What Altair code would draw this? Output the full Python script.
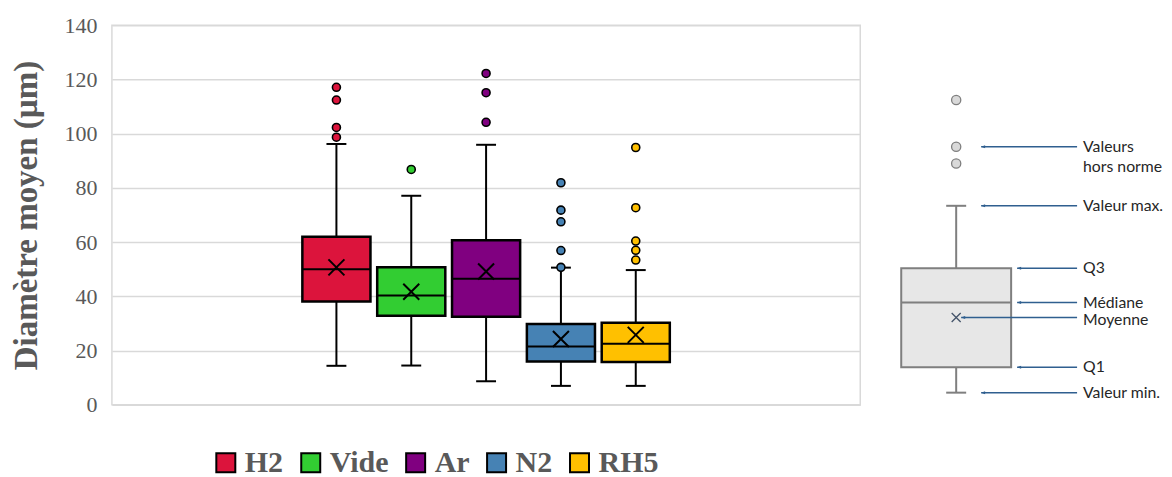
import altair as alt
import pandas as pd

# ---------------- data ----------------
groups = ["H2", "Vide", "Ar", "N2", "RH5"]
colors = ["#DC143C", "#32CD32", "#800080", "#4682B4", "#FFC000"]
q1 = [38.1, 32.9, 32.5, 16.0, 15.8]
median = [50.0, 40.3, 46.5, 21.5, 22.5]
q3 = [62.0, 50.7, 60.7, 29.8, 30.3]
mean = [50.7, 41.7, 49.2, 24.3, 25.8]
whisker_min = [14.4, 14.5, 8.7, 7.0, 7.0]
whisker_max = [96.2, 77.1, 95.9, 50.6, 49.7]
outliers_h2 = [117.1, 112.4, 102.3, 98.7]
outliers_vide = [86.8]
outliers_ar = [122.2, 115.1, 104.2]
outliers_n2 = [81.9, 71.8, 67.5, 56.9, 50.7]
outliers_rh5 = [94.9, 72.7, 60.4, 57.0, 53.4]
y_ticks = [0, 20, 40, 60, 80, 100, 120, 140]

# explanatory diagram (same y scale)
diag_outliers = [112.4, 95.2, 89.0]
diag_q1, diag_median, diag_q3, diag_mean = 13.9, 37.7, 50.4, 32.2
diag_min, diag_max = 4.5, 73.4
diag_labels = ["Valeurs", "hors norme", "Valeur max.", "Q3", "Médiane", "Moyenne", "Q1", "Valeur min."]
diag_label_y = [95.2, 87.6, 73.4, 50.4, 37.7, 31.2, 13.9, 4.5]
arrow_y = [95.2, 73.4, 50.4, 37.7, 32.2, 13.9, 4.5]

# ---------------- tables ----------------
stats = pd.DataFrame({
    "group": groups, "slot": list(range(len(groups))),
    "q1": q1, "median": median, "q3": q3, "mean": mean,
    "wmin": whisker_min, "wmax": whisker_max,
})
out_lists = [outliers_h2, outliers_vide, outliers_ar, outliers_n2, outliers_rh5]
outl = pd.DataFrame([
    {"group": g, "slot": i, "value": v}
    for i, (g, vals) in enumerate(zip(groups, out_lists)) for v in vals
])

SERIF = "Liberation Serif"
GREY_TXT = "#595959"

xscale = alt.Scale(domain=[0, 10])
yscale = alt.Scale(domain=[0, 140])
yaxis = alt.Axis(values=y_ticks, title="Diamètre moyen (µm)", grid=True,
                 gridColor="#d9d9d9", gridWidth=1.5, ticks=False, domain=False,
                 labelFont=SERIF, labelFontSize=22, labelColor=GREY_TXT,
                 labelPadding=15, titleFont=SERIF, titleFontSize=33,
                 titleFontWeight="bold", titleColor=GREY_TXT, titlePadding=20)
fill_scale = alt.Scale(domain=groups, range=colors)
legend = alt.Legend(orient="none", legendX=99, legendY=423, direction="horizontal",
                    title=None, symbolType="square", symbolSize=361,
                    symbolStrokeColor="black", symbolStrokeWidth=2,
                    symbolOpacity=1, labelFont=SERIF, labelFontSize=30,
                    labelFontWeight="bold", labelColor=GREY_TXT, labelOffset=4,
                    columnPadding=12, labelLimit=200)

base = alt.Chart(stats).transform_calculate(
    xc="datum.slot + 3",
    xl="datum.slot + 3 - 0.455", xr="datum.slot + 3 + 0.455",
    cl="datum.slot + 3 - 0.133", cr="datum.slot + 3 + 0.133",
)
X = lambda f: alt.X(f"{f}:Q", scale=xscale, axis=None)
Y = lambda f: alt.Y(f"{f}:Q", scale=yscale, axis=yaxis)

whisk = base.mark_rule(color="black", strokeWidth=2).encode(
    x=X("xc"), y=Y("wmin"), y2="wmax:Q")
cap_lo = base.mark_rule(color="black", strokeWidth=2).encode(
    x=X("cl"), x2="cr:Q", y=Y("wmin"))
cap_hi = base.mark_rule(color="black", strokeWidth=2).encode(
    x=X("cl"), x2="cr:Q", y=Y("wmax"))
box = base.mark_rect(stroke="black", strokeWidth=2.5, opacity=1).encode(
    x=X("xl"), x2="xr:Q", y=Y("q1"), y2="q3:Q",
    fill=alt.Fill("group:N", scale=fill_scale, legend=legend))
med = base.mark_rule(color="black", strokeWidth=2).encode(
    x=X("xl"), x2="xr:Q", y=Y("median"))
xshape = "M-1,-1L1,1M-1,1L1,-1"
mean_pt = base.mark_point(shape=xshape, size=256, filled=False, color="black",
                          strokeWidth=2, opacity=1).encode(x=X("xc"), y=Y("mean"))
out_pts = alt.Chart(outl).transform_calculate(xc="datum.slot + 3").mark_point(
    shape="circle", size=64, filled=True, stroke="black", strokeWidth=1.6,
    opacity=1).encode(
    x=X("xc"), y=Y("value"),
    fill=alt.Fill("group:N", scale=fill_scale, legend=legend))

main = alt.layer(whisk, cap_lo, cap_hi, box, med, mean_pt, out_pts).properties(
    width=749, height=380)

# ---------------- explanatory diagram ----------------
DW = 282
dx = alt.Scale(domain=[0, DW])
DX = lambda f: alt.X(f"{f}:Q", scale=dx, axis=None)
DY = lambda f: alt.Y(f"{f}:Q", scale=yscale, axis=None)
BOX_L, BOX_R, CTR, CAP_L, CAP_R = 22, 132, 77, 67, 87
ARROW_START, TEXT_X = 198, 204
arrow_tip = [102, 102, 138, 138, 82, 138, 102]

dstats = pd.DataFrame({"q1": [diag_q1], "median": [diag_median], "q3": [diag_q3],
                       "mean": [diag_mean], "lo": [diag_min], "hi": [diag_max]})
dout = pd.DataFrame({"value": diag_outliers})
dlab = pd.DataFrame({"label": diag_labels, "y": diag_label_y})
darr = pd.DataFrame({"y": arrow_y, "tip": arrow_tip})
dgrey = "#7f7f7f"

dbase = alt.Chart(dstats)
d_wh = dbase.mark_rule(color=dgrey, strokeWidth=2).encode(
    x=alt.value(CTR), y=DY("lo"), y2="hi:Q")
d_caplo = dbase.mark_rule(color=dgrey, strokeWidth=2).encode(
    x=alt.value(CAP_L), x2=alt.value(CAP_R), y=DY("lo"))
d_caphi = dbase.mark_rule(color=dgrey, strokeWidth=2).encode(
    x=alt.value(CAP_L), x2=alt.value(CAP_R), y=DY("hi"))
d_box = dbase.mark_rect(fill="#e7e7e7", stroke=dgrey, strokeWidth=2).encode(
    x=alt.value(BOX_L), x2=alt.value(BOX_R), y=DY("q1"), y2="q3:Q")
d_med = dbase.mark_rule(color=dgrey, strokeWidth=2).encode(
    x=alt.value(BOX_L), x2=alt.value(BOX_R), y=DY("median"))
d_mean = dbase.mark_point(shape=xshape, size=81, filled=False, color="#44546a",
                          strokeWidth=1.3, opacity=1).encode(
    x=alt.value(CTR), y=DY("mean"))
d_out = alt.Chart(dout).mark_point(shape="circle", size=85, filled=True,
                                   fill="#d9d9d9", stroke=dgrey, strokeWidth=1.3,
                                   opacity=1).encode(x=alt.value(CTR), y=DY("value"))
arrow_col = "#2f5f8f"
d_arr = alt.Chart(darr).mark_rule(color=arrow_col, strokeWidth=1.5).encode(
    x=DX("tip"), x2=alt.value(ARROW_START), y=DY("y"))
d_head = alt.Chart(darr).mark_point(shape="M0,0L2,-0.75L2,0.75Z", size=16,
                                    filled=True, color=arrow_col, opacity=1).encode(
    x=DX("tip"), y=DY("y"))
d_txt = alt.Chart(dlab).mark_text(align="left", baseline="middle", font="Lato",
                                  fontSize=15.8, color="#262626").encode(
    x=alt.value(TEXT_X), y=DY("y"), text="label:N")

diagram = alt.layer(d_wh, d_caplo, d_caphi, d_box, d_med, d_mean, d_out,
                    d_arr, d_head, d_txt).properties(
    width=DW, height=380, view=alt.ViewBackground(strokeOpacity=0))

chart = alt.hconcat(main, diagram, spacing=18).properties(
    padding={"left": 2, "top": 5, "right": 0, "bottom": 0}
).configure_view(stroke="#d9d9d9", strokeWidth=1.5).resolve_scale(x="independent")

chart.save("out.html", embed_options={"renderer": "svg", "actions": False})
